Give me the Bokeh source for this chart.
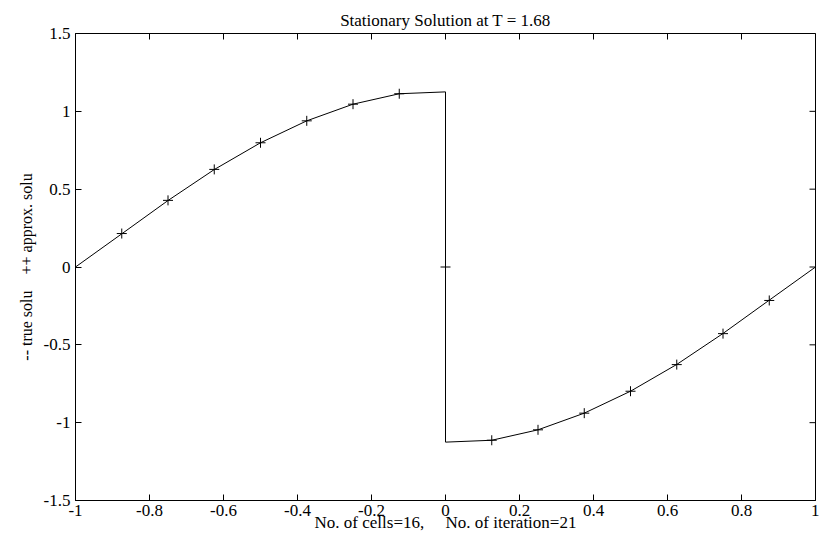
import math
from bokeh.plotting import figure
from bokeh.models import LinearAxis, FixedTicker, CustomJSTickFormatter
from bokeh.embed import file_html
from bokeh.resources import INLINE

# true solution (line)
true_x = [-1.0, -0.875, -0.75, -0.625, -0.5, -0.375, -0.25, -0.125, 0.0,
          0.0, 0.125, 0.25, 0.375, 0.5, 0.625, 0.75, 0.875, 1.0]
true_u = [0.0, 0.213, 0.427, 0.626, 0.798, 0.939, 1.046, 1.113, 1.125,
          -1.125, -1.113, -1.046, -0.939, -0.798, -0.626, -0.427, -0.213, 0.0]

# approximate solution (+ markers)
approx_x = [-0.875, -0.75, -0.625, -0.5, -0.375, -0.25, -0.125, 0.0,
            0.125, 0.25, 0.375, 0.5, 0.625, 0.75, 0.875]
approx_u = [0.215, 0.428, 0.627, 0.798, 0.939, 1.046, 1.113, 0.0,
            -1.113, -1.046, -0.939, -0.798, -0.627, -0.428, -0.215]

x_ticks = [-1, -0.8, -0.6, -0.4, -0.2, 0, 0.2, 0.4, 0.6, 0.8, 1]
x_tick_labels = ["-1", "-0.8", "-0.6", "-0.4", "-0.2", "0", "0.2", "0.4", "0.6", "0.8", "1"]
y_ticks = [-1.5, -1, -0.5, 0, 0.5, 1, 1.5]
y_tick_labels = ["-1.5", "-1", "-0.5", "0", "0.5", "1", "1.5"]

title_text = "Stationary Solution at T = 1.68"
x_label = "No. of cells=16,\u00a0\u00a0\u00a0\u00a0\u00a0No. of iteration=21"
y_label = "-- true solu\u00a0\u00a0\u00a0\u00a0++ approx. solu"

X_MIN, X_MAX = -1, 1
Y_MIN, Y_MAX = -1.5, 1.5

FONT = "Liberation Serif"
FS = "17px"

p = figure(width=819, height=544, x_range=(X_MIN, X_MAX), y_range=(Y_MIN, Y_MAX),
           output_backend="svg", toolbar_location=None,
           min_border_left=75, min_border_right=4, min_border_bottom=44, min_border_top=33,
           x_axis_location=None, y_axis_location=None)
p.grid.visible = False
p.outline_line_color = "black"
p.outline_line_width = 1
p.background_fill_color = "white"
p.border_fill_color = "white"

p.title.text = title_text
p.title.text_font = FONT
p.title.text_font_size = FS
p.title.text_font_style = "normal"
p.title.text_color = "black"
p.title.align = "center"
p.title.standoff = 8

def make_axis(ticks, labels):
    ax = LinearAxis(ticker=FixedTicker(ticks=ticks),
                    formatter=CustomJSTickFormatter(args=dict(labels=labels),
                                                    code="return labels[index];"))
    ax.major_tick_in = 6
    ax.major_tick_out = 0
    ax.minor_tick_in = 0
    ax.minor_tick_out = 0
    ax.axis_line_color = "black"
    ax.major_tick_line_color = "black"
    ax.major_label_text_font = FONT
    ax.major_label_text_color = "black"
    ax.major_label_text_font_size = FS
    ax.axis_label_text_font = FONT
    ax.axis_label_text_font_style = "normal"
    ax.axis_label_text_color = "black"
    ax.axis_label_text_font_size = FS
    return ax

xb = make_axis(x_ticks, x_tick_labels)
xb.axis_label = x_label
xb.major_label_standoff = 4
xb.axis_label_standoff = -6
p.add_layout(xb, "below")

yl = make_axis(y_ticks, y_tick_labels)
yl.axis_label = y_label
yl.axis_label_text_font_size = "16px"
yl.major_label_standoff = 5
yl.axis_label_standoff = 6
p.add_layout(yl, "left")

# inward ticks on the top and right edges (half of each dash is clipped by the frame)
p.scatter(x_ticks, [Y_MAX] * len(x_ticks), marker="dash", angle=math.pi / 2, size=12,
          line_color="black", line_width=1)
p.scatter([X_MAX] * len(y_ticks), y_ticks, marker="dash", size=12,
          line_color="black", line_width=1)

p.line(true_x, true_u, line_color="black", line_width=1)
p.scatter(approx_x, approx_u, marker="cross", size=10, line_color="black", line_width=1)

open("out.html", "w").write(file_html(p, INLINE))
